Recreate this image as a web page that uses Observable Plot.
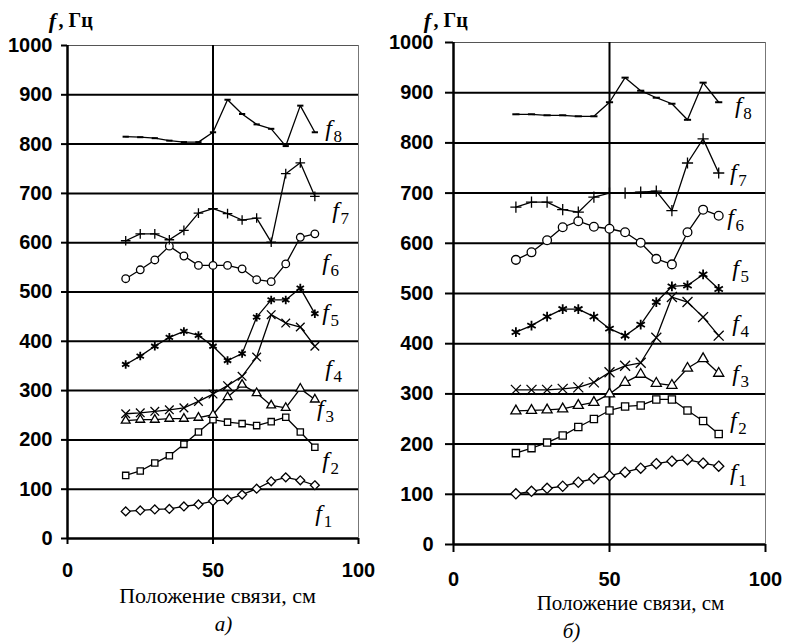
<!DOCTYPE html>
<html>
<head>
<meta charset="utf-8">
<script src="https://cdn.jsdelivr.net/npm/d3@7"></script>
<script src="https://cdn.jsdelivr.net/npm/@observablehq/plot@0.6"></script>
<style>
  html, body { margin: 0; padding: 0; background: #fff; }
  #chart { position: relative; width: 785px; height: 643px; background: #fff; }
  #chart svg { position: absolute; top: 0; overflow: visible; }
</style>
</head>
<body>
<div id="chart"></div>
<script>
// ---- data ----
const xs = [20, 25, 30, 35, 40, 45, 50, 55, 60, 65, 70, 75, 80, 85];
const yTicks = [0, 100, 200, 300, 400, 500, 600, 700, 800, 900, 1000];
const xTicks = [0, 50, 100];
const seriesDigits = ["1", "2", "3", "4", "5", "6", "7", "8"];
const xLabel = "Положение связи, см";
const yLabelF = "f";
const yLabelUnit = ", Гц";
const captionA = "а)";
const captionB = "б)";

// panel a)
const aF1 = [55, 57, 59, 60, 65, 69, 76, 79, 89, 101, 116, 124, 118, 108];
const aF2 = [128, 137, 153, 168, 191, 216, 241, 236, 233, 229, 237, 246, 216, 185];
const aF3 = [239, 241, 241, 243, 243, 245, 251, 287, 312, 295, 270, 265, 304, 282];
const aF4 = [253, 255, 258, 261, 265, 278, 293, 310, 329, 368, 454, 437, 429, 390];
const aF5 = [353, 370, 390, 408, 420, 412, 390, 361, 375, 449, 484, 484, 508, 456];
const aF6 = [527, 545, 565, 593, 573, 554, 554, 554, 547, 525, 521, 557, 611, 618];
const aF7 = [604, 618, 618, 606, 625, 660, 669, 659, 646, 650, 601, 740, 762, 694];
const aF8 = [815, 814, 812, 807, 804, 804, 824, 890, 861, 840, 831, 796, 878, 824];
const aLabelX = [86.3, 88.7, 86.9, 89.7, 88.7, 88.7, 92.1, 89.7];
const aLabelY = [51, 158, 264, 345, 458, 560, 665, 832];

// panel б)
const bF1 = [101, 106, 112, 116, 124, 131, 137, 144, 152, 161, 166, 169, 162, 156];
const bF2 = [182, 192, 203, 217, 234, 250, 267, 275, 277, 289, 289, 267, 246, 220];
const bF3 = [266, 267, 268, 270, 277, 283, 300, 323, 339, 321, 317, 351, 370, 341];
const bF4 = [308, 308, 308, 310, 313, 323, 343, 356, 362, 412, 493, 483, 453, 416];
const bF5 = [423, 436, 454, 469, 469, 454, 430, 416, 438, 483, 514, 516, 538, 509];
const bF6 = [567, 582, 606, 632, 644, 633, 629, 622, 601, 569, 558, 622, 667, 655];
const bF7 = [672, 682, 682, 667, 662, 692, 700, 700, 702, 704, 665, 760, 808, 740];
const bF8 = [857, 857, 855, 855, 853, 853, 881, 930, 904, 890, 878, 846, 920, 881];
const bLabelX = [89.7, 89.7, 90.4, 90.4, 90.4, 88.8, 89.7, 91.3];
const bLabelY = [143, 247, 341, 440, 550, 651, 741, 874];

// ---- styles ----
const dash = {
  draw(ctx, size) {
    const w = Math.sqrt(size) * 0.55;
    ctx.moveTo(-w, 0); ctx.lineTo(w, 0);
  }
};
const markerStyles = [
  {symbol: "diamond2", fill: "white", k: 1.0},
  {symbol: "square2", fill: "white", k: 1.0},
  {symbol: "triangle2", fill: "white", k: 1.05},
  {symbol: "times", fill: "none", k: 1.0},
  {symbol: "asterisk", fill: "none", k: 1.0, sw: 1.8},
  {symbol: "circle", fill: "white", k: 0.95},
  {symbol: "plus", fill: "none", k: 0.8},
  {symbol: dash, fill: "none", k: 0.8, sw: 2}
];

function panel(cfg) {
  const marks = [
    Plot.ruleY([1000], {stroke: "#555", strokeWidth: 1.2}),
    Plot.ruleX([100], {stroke: "#777", strokeWidth: 1}),
    Plot.ruleY(yTicks.filter(d => d > 0 && d < 1000), {stroke: "black", strokeWidth: 2}),
    Plot.ruleX([50], {stroke: "black", strokeWidth: 2}),
    Plot.ruleX([0], {stroke: "black", strokeWidth: 2.5}),
    Plot.ruleY([0], {stroke: "black", strokeWidth: 2.5}),
    Plot.axisY({ticks: yTicks, tickSize: cfg.tickY, tickPadding: cfg.padY, tickFormat: d => String(d),
      fontSize: 20, fontWeight: "bold", fontFamily: "Liberation Sans, Arial, sans-serif",
      strokeWidth: 2, label: null}),
    Plot.axisX({ticks: xTicks, tickSize: cfg.tickX, tickPadding: cfg.padX, tickFormat: d => String(d),
      fontSize: 20, fontWeight: "bold", fontFamily: "Liberation Sans, Arial, sans-serif",
      strokeWidth: 2, label: null})
  ];
  cfg.series.forEach((vals, i) => {
    const rows = xs.map((x, j) => ({x, y: vals[j]}));
    const st = markerStyles[i];
    marks.push(Plot.line(rows, {x: "x", y: "y", stroke: "black", strokeWidth: 1.3}));
    marks.push(Plot.dot(rows, {x: "x", y: "y", symbol: st.symbol, r: cfg.r * st.k,
      fill: st.fill, stroke: "black", strokeWidth: st.sw || 1.3}));
  });
  const labels = seriesDigits.map((d, i) => ({x: cfg.lx[i], y: cfg.ly[i], d}));
  marks.push(Plot.text(labels, {x: "x", y: "y", text: () => "f", fontStyle: "italic",
    fontFamily: "Liberation Serif, Times New Roman, serif", fontSize: 24, fill: "black"}));
  marks.push(Plot.text(labels, {x: "x", y: "y", text: "d", dx: 5, dy: 8, textAnchor: "start",
    fontFamily: "Liberation Serif, Times New Roman, serif", fontSize: 17, fill: "black"}));
  // axis titles & caption
  marks.push(Plot.text([yLabelF], {frameAnchor: "top-left", dx: cfg.fdx, dy: cfg.fdy, lineAnchor: "middle",
    textAnchor: "middle", fontStyle: "italic", fontWeight: "bold", fontSize: 22,
    fontFamily: "Liberation Serif, Times New Roman, serif"}));
  marks.push(Plot.text([yLabelUnit], {frameAnchor: "top-left", dx: cfg.fdx + 6, dy: cfg.fdy, lineAnchor: "middle",
    textAnchor: "start", fontWeight: "bold", fontSize: 20,
    fontFamily: "Liberation Serif, Times New Roman, serif"}));
  marks.push(Plot.text([xLabel], {frameAnchor: "bottom", dx: cfg.xldx, dy: cfg.xldy, lineAnchor: "middle",
    fontSize: cfg.xlfs, fontFamily: "Liberation Serif, Times New Roman, serif"}));
  marks.push(Plot.text([cfg.caption], {frameAnchor: "bottom", dx: cfg.cdx, dy: cfg.cdy, lineAnchor: "middle",
    fontSize: 21, fontStyle: "italic", fontFamily: "Liberation Serif, Times New Roman, serif"}));

  const svg = Plot.plot({
    width: cfg.width, height: 643,
    marginLeft: cfg.ml, marginRight: cfg.mr, marginTop: cfg.mt, marginBottom: cfg.mb,
    x: {domain: [0, 100], axis: null},
    y: {domain: [0, 1000], axis: null},
    style: {background: "transparent", overflow: "visible", color: "black"},
    marks
  });
  svg.style.left = cfg.left + "px";
  return svg;
}

const chart = document.getElementById("chart");
chart.appendChild(panel({
  left: 0, width: 390, ml: 67, mr: 32, mt: 45, mb: 105,
  tickY: 6, padY: 9, tickX: 6, padX: 18, r: 4,
  series: [aF1, aF2, aF3, aF4, aF5, aF6, aF7, aF8], lx: aLabelX, ly: aLabelY,
  fdx: -15, fdy: -25, xldx: 4.5, xldy: 57, xlfs: 22, cdx: 10.5, cdy: 86, caption: captionA
}));
chart.appendChild(panel({
  left: 390, width: 395, ml: 63, mr: 20, mt: 42, mb: 99,
  tickY: 8, padY: 12, tickX: 8, padX: 19, r: 4.6,
  series: [bF1, bF2, bF3, bF4, bF5, bF6, bF7, bF8], lx: bLabelX, ly: bLabelY,
  fdx: -26, fdy: -22, xldx: 21, xldy: 59, xlfs: 21, cdx: -38, cdy: 87, caption: captionB
}));
</script>
</body>
</html>
